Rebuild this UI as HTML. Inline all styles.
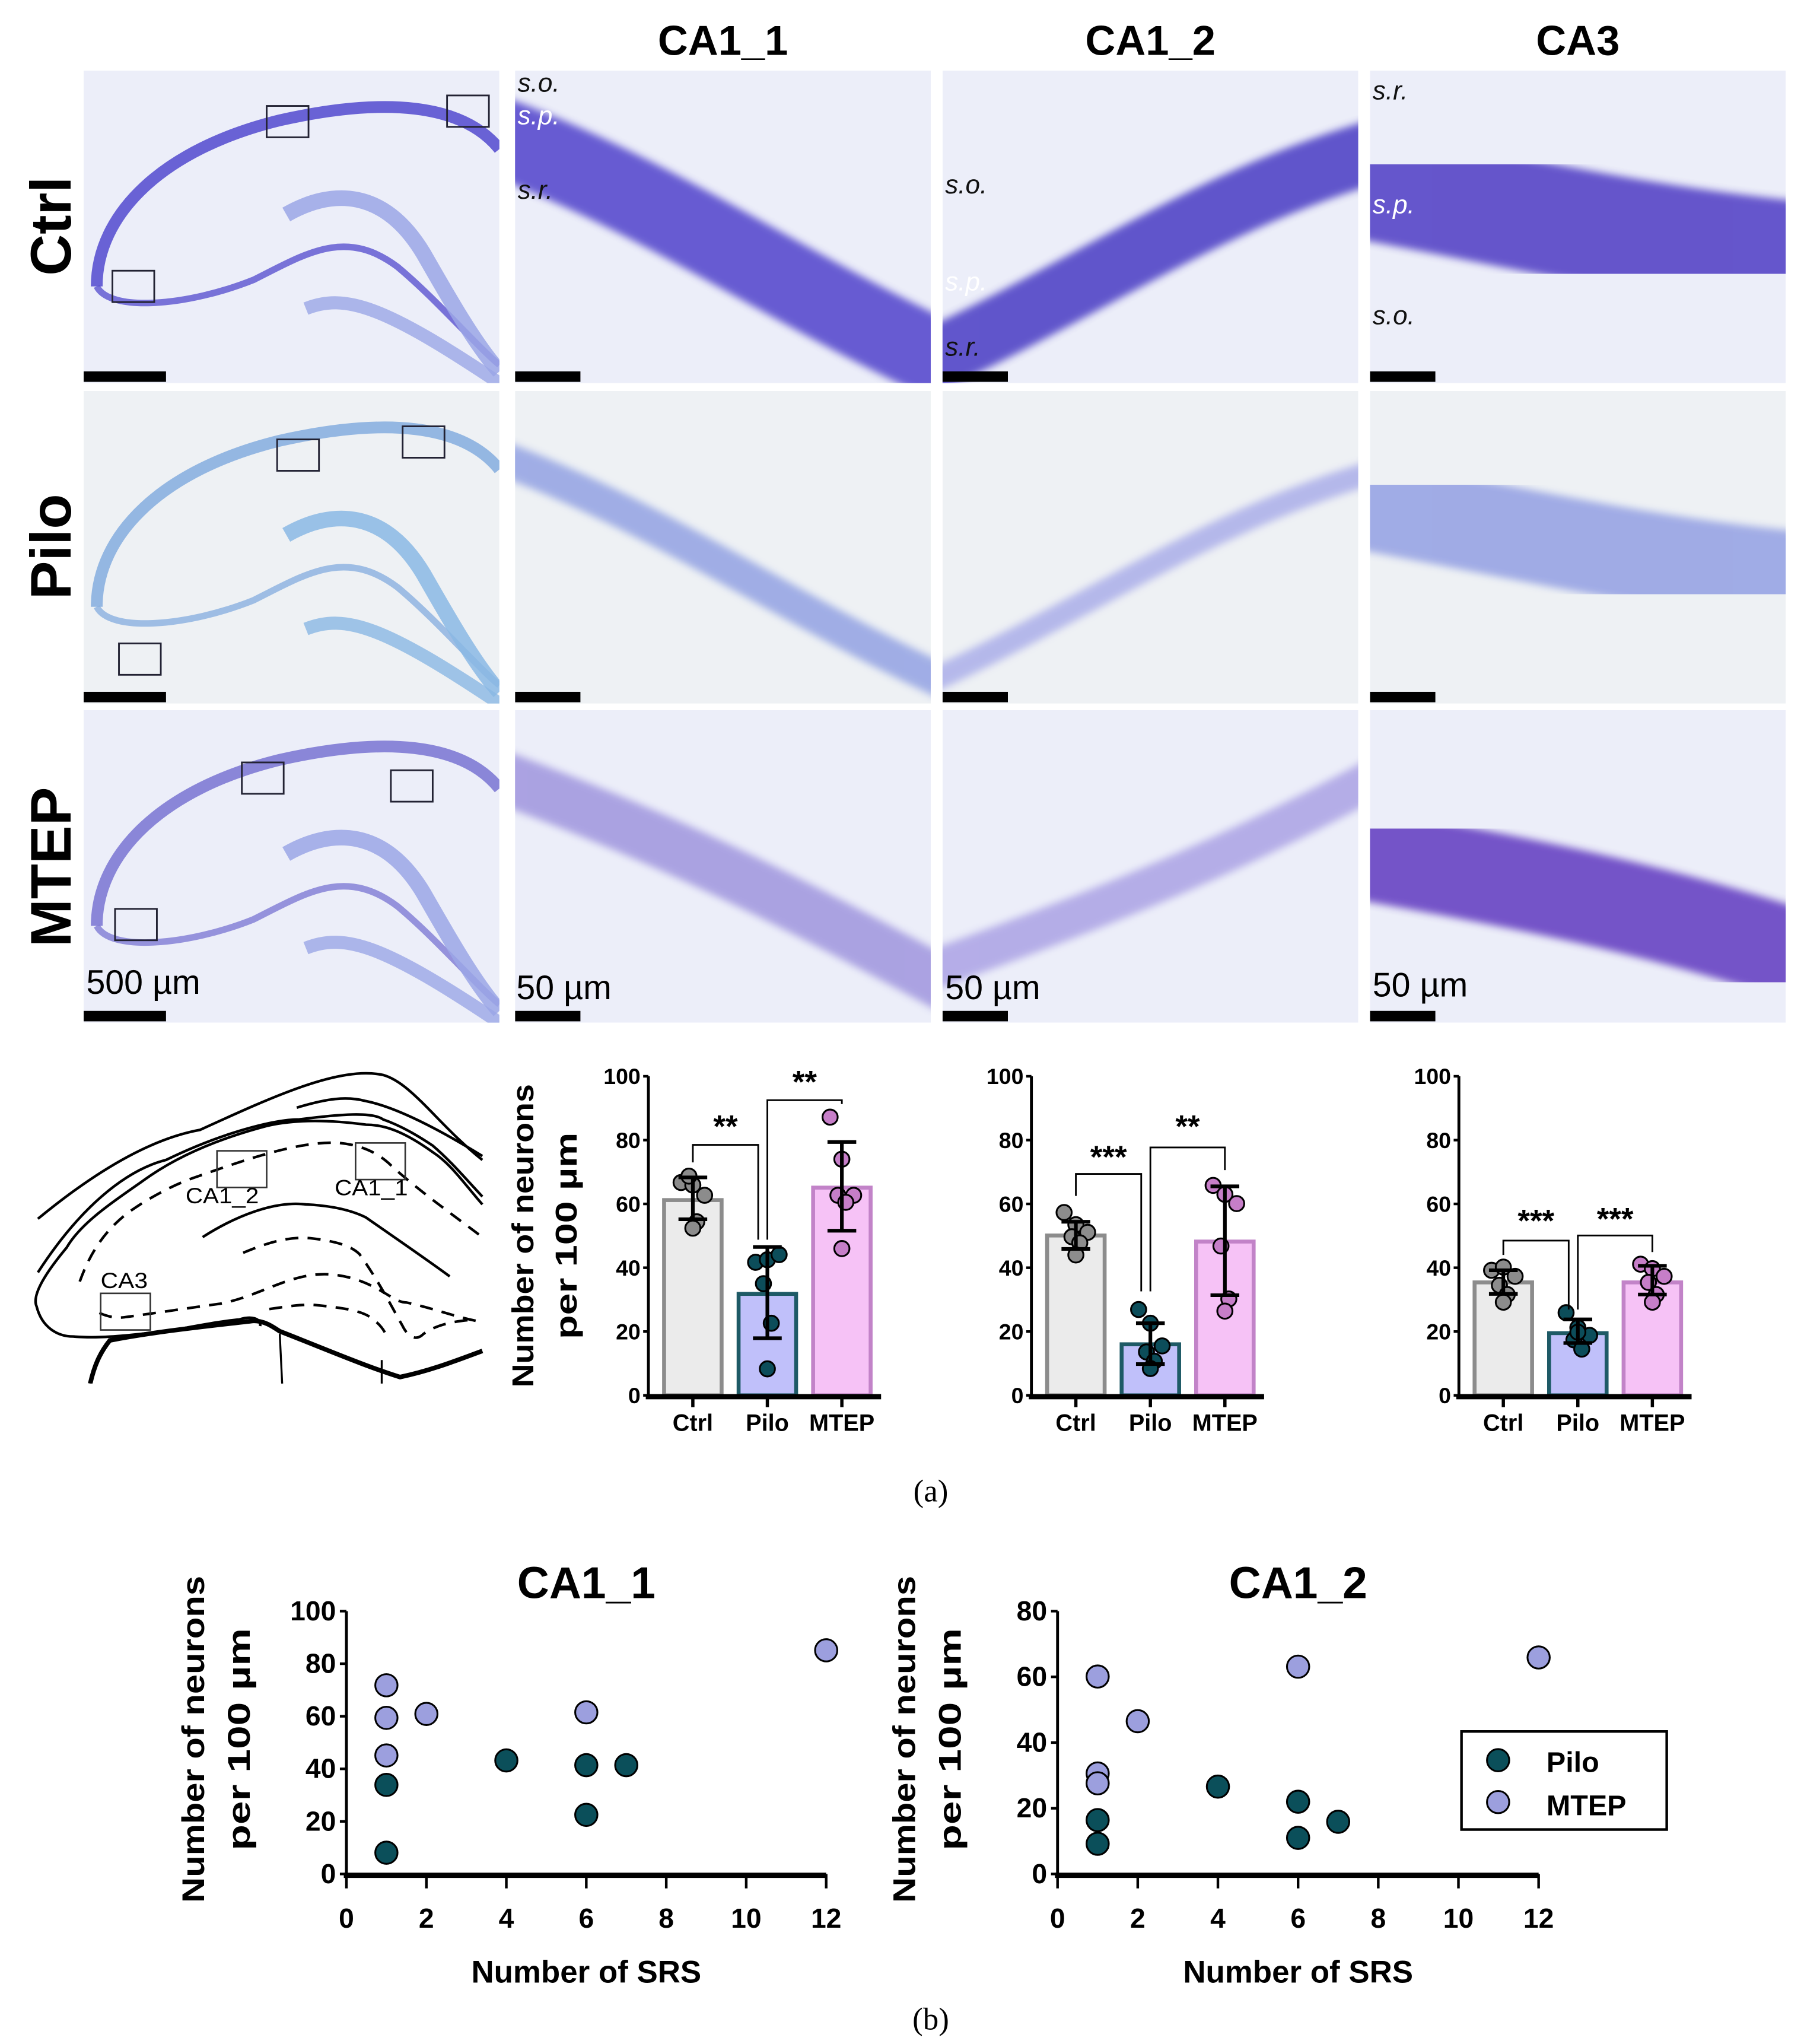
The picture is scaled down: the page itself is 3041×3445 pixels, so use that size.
<!DOCTYPE html>
<html><head><meta charset="utf-8">
<style>
html,body{margin:0;padding:0;background:#fff;}
svg{display:block;}
text{font-family:"Liberation Sans",Arial,sans-serif;}
</style></head>
<body>
<svg id="fig" xmlns="http://www.w3.org/2000/svg" width="3041" height="3445" viewBox="0 0 1380 1563" preserveAspectRatio="none">
<defs>
<filter id="blur3" x="-20%" y="-20%" width="140%" height="140%"><feGaussianBlur stdDeviation="3"/></filter>
<clipPath id="schemClip"><rect x="0" y="800" width="372" height="258"/></clipPath>
</defs>

<g font-weight="bold" font-size="32" text-anchor="middle">
<text x="553" y="42">CA1_1</text>
<text x="880" y="42">CA1_2</text>
<text x="1207" y="42">CA3</text>
</g>
<g font-weight="bold" font-size="44" text-anchor="middle">
<text transform="translate(54,173) rotate(-90)">Ctrl</text>
<text transform="translate(54,418) rotate(-90)">Pilo</text>
<text transform="translate(54,663) rotate(-90)">MTEP</text>
</g>

<g id="photos"></g>

<g clip-path="url(#schemClip)" fill="none" stroke="#000" stroke-width="2">
<path d="M29,932 C80,890 120,870 153,864 C210,838 260,815 293,822 C315,828 335,860 369,887"/>
<path d="M227,847 C250,840 265,838 280,842 C300,846 330,860 369,884"/>
<path d="M29,973 C60,925 95,895 127,887 C170,866 210,856 229,856 C260,852 285,850 293,856 C310,862 325,872 331,876 C345,888 355,900 369,915"/>
<path d="M369,921 C355,905 345,890 331,881 C310,866 295,860 280,860 C250,856 225,856 204,861 C170,870 140,882 115,899 C85,920 62,935 51,954 C36,972 24,990 28,999 C32,1015 44,1022 56,1022 C80,1024 105,1020 127,1018 C150,1014 170,1010 183,1009 C192,1006 200,1008 199,1014"/>
<path d="M69,1058 C72,1045 76,1035 84,1025 C120,1018 160,1014 194,1010 C202,1010 208,1014 214,1018 C245,1030 280,1045 306,1053 C330,1048 350,1040 369,1033" stroke-width="3.5"/>
<path d="M155,946 C180,930 210,918 234,921 C255,922 270,926 280,931 C300,945 325,962 344,976"/>
<path d="M214,1020 L216,1061" stroke-width="1.5"/>
<path d="M292,1040 L292,1060" stroke-width="1.5"/>
<g stroke-dasharray="10,7">
<path d="M61,980 C70,955 82,940 97,928 C115,915 135,905 150,900 C190,886 230,872 260,874 C280,876 292,884 300,892 C320,910 345,928 369,946"/>
<path d="M76,1004 C85,1008 92,1008 97,1007 C120,1004 145,1000 168,997 C195,992 215,978 239,975 C260,972 280,980 293,988 C300,992 305,996 311,996 C330,1000 345,1006 364,1010"/>
<path d="M186,958 C205,950 222,945 239,947 C255,949 268,952 275,959 C290,980 300,1000 308,1014 C312,1022 318,1026 324,1020 C335,1012 350,1010 364,1009"/>
<path d="M206,1001 C220,999 232,997 242,998 C262,1000 275,1002 283,1007 C290,1012 293,1016 295,1020"/>
</g>
<g stroke="#333" stroke-width="1.2">
<rect x="166" y="880" width="38" height="28"/>
<rect x="272" y="874" width="38" height="28"/>
<rect x="77" y="989" width="38" height="28"/>
</g>
<g stroke="none" fill="#000" font-size="17">
<text x="142" y="920" textLength="56" lengthAdjust="spacingAndGlyphs">CA1_2</text>
<text x="256" y="914" textLength="56" lengthAdjust="spacingAndGlyphs">CA1_1</text>
<text x="77" y="985" textLength="36" lengthAdjust="spacingAndGlyphs">CA3</text>
</g>
</g>

<g font-weight="bold" font-size="23" text-anchor="middle">
<text transform="translate(408,945) rotate(-90)" textLength="232" lengthAdjust="spacingAndGlyphs">Number of neurons</text>
<text transform="translate(441,945) rotate(-90)" textLength="158" lengthAdjust="spacingAndGlyphs">per 100 µm</text>
</g>

<g id="bars"></g>

<text x="712" y="1148" text-anchor="middle" style="font-family:'Liberation Serif',serif" font-size="24">(a)</text>

<g id="scatters"></g>

<text x="712" y="1552" text-anchor="middle" style="font-family:'Liberation Serif',serif" font-size="24">(b)</text>
</svg>

<script>
const NS = "http://www.w3.org/2000/svg";
function mk(parent, tag, attrs, txt) {
  const e = document.createElementNS(NS, tag);
  for (const k in attrs) e.setAttribute(k, attrs[k]);
  if (txt !== undefined) e.textContent = txt;
  parent.appendChild(e);
  return e;
}
const svgRoot = document.getElementById("fig");
const defs = svgRoot.querySelector("defs");

/* ---------------- Micrographs (illustrative) ---------------- */
const photoCols = [64, 394, 721, 1048];
const photoRows = [54, 299, 543];
const PW = 318, PH = 239;
const bandColors = [
  ["#5b4fcf", "#5b4fcf", "#5548c8", "#5a48c8"],
  ["#8aa0e0", "#9aa8e4", "#b0b4ea", "#9aa6e4"],
  ["#8f88dc", "#a59ce0", "#b0a8e6", "#6a46c4"]
];
const bandThick = [[0, 60, 48, 85], [0, 26, 18, 70], [0, 40, 30, 70]];
const bandPaths = [
  "", "M{x0},{y20} C{xa},{y40} {xb},{y70} {x1},{y95}",
  "M{x0},{y95} C{xa},{y70} {xb},{y40} {x1},{y25}",
  "M{x0},{y35} C{xa},{y45} {xb},{y55} {x1},{y60}"
];
const photos = document.getElementById("photos");
const rowNames = ["ctrl", "pilo", "mtep"];
const colNames = ["overview", "ca1-1", "ca1-2", "ca3"];
photoRows.forEach((py, r) => {
  photoCols.forEach((px, c) => {
    const cid = "pc" + r + c;
    const cp = mk(defs, "clipPath", { id: cid });
    mk(cp, "rect", { x: px, y: py, width: PW, height: PH });
    const g = mk(photos, "g", { "clip-path": `url(#${cid})` });
    
    
    mk(g, "rect", { x: px, y: py, width: PW, height: PH, fill: r === 1 ? "#eef1f4" : "#eceef9" });
    if (c === 0) {
      const col = r === 0 ? "#5b52d0" : (r === 1 ? "#8ab0e0" : "#7f7ad4");
      mk(g, "path", { d: `M${px+10},${py+165} C${px+10},${py+110} ${px+60},${py+60} ${px+150},${py+38} C${px+230},${py+20} ${px+290},${py+25} ${px+318},${py+60}`, fill: "none", stroke: col, "stroke-width": 9, opacity: 0.9 });
      mk(g, "path", { d: `M${px+10},${py+165} C${px+20},${py+185} ${px+80},${py+180} ${px+130},${py+160} C${px+170},${py+140} ${px+200},${py+120} ${px+240},${py+150} C${px+270},${py+175} ${px+300},${py+210} ${px+318},${py+225}`, fill: "none", stroke: col, "stroke-width": 5, opacity: 0.8 });
      mk(g, "path", { d: `M${px+155},${py+110} C${px+190},${py+90} ${px+230},${py+90} ${px+260},${py+140} C${px+280},${py+175} ${px+300},${py+210} ${px+318},${py+230}`, fill: "none", stroke: r === 1 ? "#8ab8e4" : "#9ba6e6", "stroke-width": 12, opacity: 0.85 });
      mk(g, "path", { d: `M${px+170},${py+182} C${px+200},${py+170} ${px+230},${py+180} ${px+318},${py+239}`, fill: "none", stroke: r === 1 ? "#8ab8e4" : "#9ba6e6", "stroke-width": 10, opacity: 0.8 });
      const boxes = r === 0 ? [[140, 27], [278, 19], [22, 153]] : r === 1 ? [[148, 37], [244, 27], [27, 193]] : [[121, 40], [235, 46], [24, 152]];
      boxes.forEach(b => mk(g, "rect", { x: px + b[0], y: py + b[1], width: 32, height: 24, fill: "none", stroke: "#223", "stroke-width": 1.3 }));
    } else {
      const sub = (s) => s.replace(/\{x0\}/g, px - 20).replace(/\{x1\}/g, px + PW + 20).replace(/\{xa\}/g, px + PW * 0.35).replace(/\{xb\}/g, px + PW * 0.65)
        .replace(/\{y(\d+)\}/g, (m, v) => py + PH * v / 100);
      let d = bandPaths[c];
      if (r === 2 && c === 1) d = "M{x0},{y20} C{xa},{y40} {xb},{y60} {x1},{y90}";
      if (r === 2 && c === 2) d = "M{x0},{y85} C{xa},{y65} {xb},{y50} {x1},{y20}";
      if (r === 2 && c === 3) d = "M{x0},{y45} C{xa},{y55} {xb},{y62} {x1},{y80}";
      mk(g, "path", { d: sub(d), fill: "none", stroke: bandColors[r][c], "stroke-width": bandThick[r][c], filter: "url(#blur3)", opacity: 0.92 });
    }
    mk(g, "rect", { x: px, y: py + 230, width: c === 0 ? 63 : 50, height: 8, fill: "#000" });
  });
});
const lay = mk(photos, "g", { "font-size": "20", "font-style": "italic" });


[["s.o.", 396, 70, "#111"], ["s.p.", 396, 95, "#fff"], ["s.r.", 396, 152, "#111"],
 ["s.o.", 723, 148, "#111"], ["s.p.", 723, 222, "#fff"], ["s.r.", 723, 272, "#111"],
 ["s.r.", 1050, 76, "#111"], ["s.p.", 1050, 163, "#fff"], ["s.o.", 1050, 248, "#111"]]
 .forEach(l => mk(lay, "text", { x: l[1], y: l[2], fill: l[3] }, l[0]));
const sb = mk(photos, "g", { "font-size": "26" });


[["500 µm", 66, 760], ["50 µm", 395, 764], ["50 µm", 723, 764], ["50 µm", 1050, 762]]
 .forEach(l => mk(sb, "text", { x: l[1], y: l[2] }, l[0]));

/* ---------------- Bar charts ---------------- */
const groups = ["Ctrl", "Pilo", "MTEP"];
const yTicks = [0, 20, 40, 60, 80, 100];
const ca11Means = [61.2, 31.8, 65.1];
const ca11ErrLo = [55.2, 17.9, 51.6];
const ca11ErrHi = [68.3, 46.5, 79.4];
const ca11Pts = [[66.7, 65.9, 62.7, 68.7, 54.4, 52.4], [41.7, 42.5, 44.1, 35.0, 22.6, 8.3], [87.2, 74.0, 62.7, 62.7, 60.5, 46.0]];
const ca12Means = [50.1, 16.0, 48.2];
const ca12ErrLo = [45.9, 9.8, 31.4];
const ca12ErrHi = [54.4, 22.6, 65.5];
const ca12Pts = [[57.3, 53.5, 51.1, 49.7, 47.8, 44.0], [26.9, 22.6, 15.5, 13.6, 10.7, 8.4], [65.8, 63.0, 60.1, 46.8, 30.2, 26.4]];
const ca3Means = [35.4, 19.5, 35.4];
const ca3ErrLo = [31.8, 16.4, 31.6];
const ca3ErrHi = [39.2, 23.8, 40.6];
const ca3Pts = [[39.2, 40.2, 37.3, 34.5, 31.6, 29.2], [25.9, 21.2, 18.8, 17.4, 14.5, 19.8], [41.1, 39.7, 37.3, 35.4, 31.6, 29.2]];
const ca11Sig = [[0, 1, 78.5, 73, 48.8, "**", 85], [1, 2, 92.5, 48.8, 91.3, "**", 99]];
const ca12Sig = [[0, 1, 69.4, 62.5, 32.6, "***", 75.5], [1, 2, 77.7, 32.6, 70.6, "**", 85]];
const ca3Sig = [[0, 1, 48.5, 44, 26.9, "***", 55.5], [1, 2, 50.1, 26.9, 44.9, "***", 56]];

const barFill = ["#ebebeb", "#c0c0fa", "#f6c2f6"];
const barStroke = ["#8c8c8c", "#1e5a66", "#c283c8"];
const dotFill = ["#8c8c8c", "#0c4d5a", "#c67ec8"];
const chartAxisX = [496, 789, 1116];
const chartDefs = [
  ["ca1-1", ca11Means, ca11ErrLo, ca11ErrHi, ca11Pts, ca11Sig],
  ["ca1-2", ca12Means, ca12ErrLo, ca12ErrHi, ca12Pts, ca12Sig],
  ["ca3", ca3Means, ca3ErrLo, ca3ErrHi, ca3Pts, ca3Sig]
];
const barsG = document.getElementById("bars");
const Y0 = 1067, Y100 = 823;
const yB = v => Y0 - (Y0 - Y100) * v / 100;
const jit = [-9, 0, 9, -3, 3, 0];
chartDefs.forEach((cd, ci) => {
  const ax = chartAxisX[ci];
  const xC = i => ax + 34 + i * 57;
  const g = mk(barsG, "g", {});
  
  
  cd[1].forEach((m, i) => {
    const b = mk(g, "rect", { x: xC(i) - 22, y: yB(m), width: 44, height: Y0 - yB(m), fill: barFill[i], stroke: barStroke[i], "stroke-width": 3 });
    
    
  });
  cd[4].forEach((pts, i) => {
    pts.forEach((v, k) => {
      const c = mk(g, "circle", { cx: xC(i) + jit[k], cy: yB(v), r: 5.8, fill: dotFill[i], stroke: "#000", "stroke-width": 1.4 });
      
      
    });
  });
  cd[1].forEach((m, i) => {
    const eg = mk(g, "g", { stroke: "#000", "stroke-width": 2.8 });
    
    
    mk(eg, "line", { x1: xC(i), x2: xC(i), y1: yB(cd[2][i]), y2: yB(cd[3][i]) });
    mk(eg, "line", { x1: xC(i) - 11, x2: xC(i) + 11, y1: yB(cd[2][i]), y2: yB(cd[2][i]) });
    mk(eg, "line", { x1: xC(i) - 11, x2: xC(i) + 11, y1: yB(cd[3][i]), y2: yB(cd[3][i]) });
  });
  cd[5].forEach(s => {
    const sg = mk(g, "g", {});
    
    
    const xa = s[0] === 1 ? xC(1) : xC(s[0]);
    const xb = s[1] === 1 ? xC(1) - 7 : xC(s[1]);
    mk(sg, "path", { d: `M${xa},${yB(s[3])} L${xa},${yB(s[2])} L${xb},${yB(s[2])} L${xb},${yB(s[4])}`, fill: "none", stroke: "#000", "stroke-width": 1.3 });
    mk(sg, "text", { x: (xa + xb) / 2, y: yB(s[6]) + 10, "text-anchor": "middle", "font-size": "24", "font-weight": "bold" }, s[5]);
  });
  const axg = mk(g, "g", {});
  
  
  mk(axg, "line", { x1: ax, x2: ax, y1: Y100, y2: Y0, stroke: "#000", "stroke-width": 2.2 });
  mk(axg, "line", { x1: ax - 2, x2: xC(2) + 30, y1: Y0 + 1, y2: Y0 + 1, stroke: "#000", "stroke-width": 4 });
  yTicks.forEach(t => {
    mk(axg, "line", { x1: ax - 4, x2: ax, y1: yB(t), y2: yB(t), stroke: "#000", "stroke-width": 2 });
    mk(axg, "text", { x: ax - 6, y: yB(t) + 6, "text-anchor": "end", "font-size": "17", "font-weight": "bold" }, t);
  });
  groups.forEach((gname, i) => {
    mk(axg, "line", { x1: xC(i), x2: xC(i), y1: Y0, y2: Y0 + 9, stroke: "#000", "stroke-width": 2.5 });
    mk(axg, "text", { x: xC(i), y: Y0 + 27, "text-anchor": "middle", "font-size": "18", "font-weight": "bold" }, gname);
  });
});

/* ---------------- Scatter plots ---------------- */
const xTicks = [0, 2, 4, 6, 8, 10, 12];
const sc1YTicks = [0, 20, 40, 60, 80, 100];
const sc2YTicks = [0, 20, 40, 60, 80];
const sc1PiloX = [1, 1, 4, 6, 6, 7];
const sc1PiloY = [33.9, 8.1, 43.2, 41.4, 22.5, 41.4];
const sc1MtepX = [1, 1, 1, 2, 6, 12];
const sc1MtepY = [71.8, 59.4, 45.1, 60.9, 61.5, 85.1];
const sc2PiloX = [1, 1, 4, 6, 6, 7];
const sc2PiloY = [16.4, 9.2, 26.6, 22.0, 11.0, 15.9];
const sc2MtepX = [1, 1, 1, 2, 6, 12];
const sc2MtepY = [60.1, 30.6, 27.6, 46.5, 63.1, 65.9];
const piloColor = "#0b4f5a", mtepColor = "#9c9fde";
const scG = document.getElementById("scatters");
const scDefs = [
  ["ca1-1", "CA1_1", 265, 632, 100, sc1YTicks, sc1PiloX, sc1PiloY, sc1MtepX, sc1MtepY, 148, 183],
  ["ca1-2", "CA1_2", 809, 1177, 80, sc2YTicks, sc2PiloX, sc2PiloY, sc2MtepX, sc2MtepY, 692, 727]
];
const SY0 = 1433, SYT = 1232;
scDefs.forEach(sd => {
  const g = mk(scG, "g", {});
  
  
  const xs = v => sd[2] + (sd[3] - sd[2]) * v / 12;
  const ys = v => SY0 - (SY0 - SYT) * v / sd[4];
  mk(g, "text", { x: (sd[2] + sd[3]) / 2, y: 1222, "text-anchor": "middle", "font-size": "34", "font-weight": "bold" }, sd[1]);
  mk(g, "line", { x1: sd[2], x2: sd[2], y1: SYT, y2: SY0, stroke: "#000", "stroke-width": 2.2 });
  mk(g, "line", { x1: sd[2] - 2, x2: sd[3], y1: SY0 + 1, y2: SY0 + 1, stroke: "#000", "stroke-width": 4 });
  sd[5].forEach(t => {
    mk(g, "line", { x1: sd[2] - 5, x2: sd[2], y1: ys(t), y2: ys(t), stroke: "#000", "stroke-width": 2 });
    mk(g, "text", { x: sd[2] - 8, y: ys(t) + 7, "text-anchor": "end", "font-size": "21", "font-weight": "bold" }, t);
  });
  xTicks.forEach(t => {
    mk(g, "line", { x1: xs(t), x2: xs(t), y1: SY0, y2: SY0 + 11, stroke: "#000", "stroke-width": 2 });
    mk(g, "text", { x: xs(t), y: SY0 + 41, "text-anchor": "middle", "font-size": "21", "font-weight": "bold" }, t);
  });
  mk(g, "text", { x: (sd[2] + sd[3]) / 2, y: 1516, "text-anchor": "middle", "font-size": "24", "font-weight": "bold" }, "Number of SRS");
  mk(g, "text", { transform: `translate(${sd[10] + 8},1330) rotate(-90)`, "text-anchor": "middle", "font-size": "24", "font-weight": "bold", textLength: "250", lengthAdjust: "spacingAndGlyphs" }, "Number of neurons");
  mk(g, "text", { transform: `translate(${sd[11] + 8},1330) rotate(-90)`, "text-anchor": "middle", "font-size": "24", "font-weight": "bold", textLength: "170", lengthAdjust: "spacingAndGlyphs" }, "per 100 µm");
  sd[8].forEach((x, i) => {
    const c = mk(g, "circle", { cx: xs(x), cy: ys(sd[9][i]), r: 8.5, fill: mtepColor, stroke: "#000", "stroke-width": 1.4 });
    
    
  });
  sd[6].forEach((x, i) => {
    const c = mk(g, "circle", { cx: xs(x), cy: ys(sd[7][i]), r: 8.5, fill: piloColor, stroke: "#000", "stroke-width": 1.4 });
    
    
  });
});
const lg = mk(scG, "g", {});


mk(lg, "rect", { x: 1118, y: 1324, width: 157, height: 75, fill: "#fff", stroke: "#000", "stroke-width": 2 });
const le1 = mk(lg, "circle", { cx: 1146, cy: 1346, r: 8.5, fill: piloColor, stroke: "#000", "stroke-width": 1.4 });


mk(lg, "text", { x: 1183, y: 1355, "font-size": "22", "font-weight": "bold" }, "Pilo");
const le2 = mk(lg, "circle", { cx: 1146, cy: 1378, r: 8.5, fill: mtepColor, stroke: "#000", "stroke-width": 1.4 });


mk(lg, "text", { x: 1183, y: 1388, "font-size": "22", "font-weight": "bold" }, "MTEP");
</script>
</body></html>
